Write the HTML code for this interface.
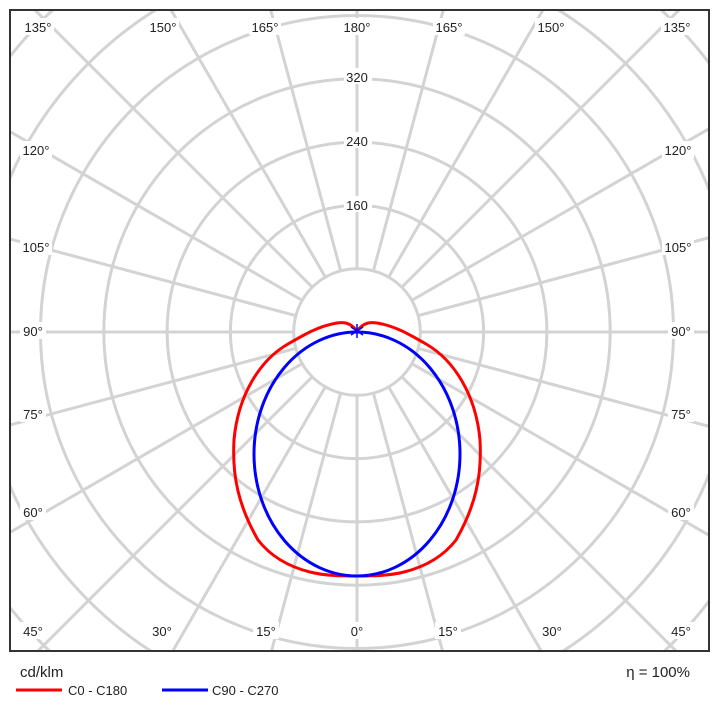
<!DOCTYPE html><html><head><style>body{margin:0;background:#fff;overflow:hidden}svg{display:block}text{font-family:"Liberation Sans",sans-serif;font-size:13px;fill:#222}</style></head><body>
<svg width="720" height="714" viewBox="0 0 720 714">
<defs><clipPath id="c"><rect x="10" y="10" width="699" height="641"/></clipPath></defs>
<g clip-path="url(#c)" stroke="#d3d3d3" stroke-width="3" fill="none">
<line x1="357" y1="-368" x2="357" y2="1032"/>
<line x1="538.2" y1="1008.1" x2="175.8" y2="-344.1"/>
<line x1="707" y1="938.2" x2="7" y2="-274.2"/>
<line x1="852" y1="827" x2="-138" y2="-163"/>
<line x1="963.2" y1="682" x2="-249.2" y2="-18"/>
<line x1="1033.1" y1="513.2" x2="-319.1" y2="150.8"/>
<line x1="1057" y1="332" x2="-343" y2="332"/>
<line x1="1033.1" y1="150.8" x2="-319.1" y2="513.2"/>
<line x1="963.2" y1="-18" x2="-249.2" y2="682"/>
<line x1="852" y1="-163" x2="-138" y2="827"/>
<line x1="707" y1="-274.2" x2="7" y2="938.2"/>
<line x1="538.2" y1="-344.1" x2="175.8" y2="1008.1"/>
<circle cx="357" cy="332" r="63.3" fill="#fff"/>
<circle cx="357" cy="332" r="126.6"/>
<circle cx="357" cy="332" r="189.9"/>
<circle cx="357" cy="332" r="253.2"/>
<circle cx="357" cy="332" r="316.5"/>
<circle cx="357" cy="332" r="379.8"/>
<circle cx="357" cy="332" r="443.1"/>
<circle cx="357" cy="332" r="506.4"/>
</g>
<g fill="#fff" stroke="none">
<rect x="344" y="68" width="28" height="16"/><rect x="344" y="132" width="28" height="16"/><rect x="344" y="196" width="28" height="16"/>
<rect x="22" y="18" width="32" height="17"/><rect x="147" y="18" width="32" height="17"/><rect x="249" y="18" width="32" height="17"/><rect x="341" y="18" width="32" height="17"/>
<rect x="433" y="18" width="32" height="17"/><rect x="535" y="18" width="32" height="17"/><rect x="661" y="18" width="32" height="17"/>
<rect x="20" y="141" width="32" height="17"/><rect x="20" y="238" width="32" height="17"/><rect x="20" y="322" width="26" height="17"/><rect x="20" y="405" width="26" height="17"/><rect x="20" y="503" width="26" height="17"/>
<rect x="662" y="141" width="32" height="17"/><rect x="662" y="238" width="32" height="17"/><rect x="668" y="322" width="26" height="17"/><rect x="668" y="405" width="26" height="17"/><rect x="668" y="503" width="26" height="17"/>
<rect x="20" y="622" width="26" height="17"/><rect x="149" y="622" width="26" height="17"/><rect x="253" y="622" width="26" height="17"/><rect x="348" y="622" width="18" height="17"/><rect x="435" y="622" width="26" height="17"/><rect x="539" y="622" width="26" height="17"/><rect x="668" y="622" width="26" height="17"/>
</g>
<rect x="10" y="10" width="699" height="641" fill="none" stroke="#333" stroke-width="2"/>
<g text-anchor="middle">
<text x="357" y="82">320</text><text x="357" y="146">240</text><text x="357" y="210">160</text>
<text x="38" y="32">135°</text><text x="163" y="32">150°</text><text x="265" y="32">165°</text><text x="357" y="32">180°</text>
<text x="449" y="32">165°</text><text x="551" y="32">150°</text><text x="677" y="32">135°</text>
<text x="36" y="155">120°</text><text x="36" y="252">105°</text><text x="33" y="336">90°</text><text x="33" y="419">75°</text><text x="33" y="517">60°</text>
<text x="678" y="155">120°</text><text x="678" y="252">105°</text><text x="681" y="336">90°</text><text x="681" y="419">75°</text><text x="681" y="517">60°</text>
<text x="33" y="636">45°</text><text x="162" y="636">30°</text><text x="266" y="636">15°</text><text x="357" y="636">0°</text><text x="448" y="636">15°</text><text x="552" y="636">30°</text><text x="681" y="636">45°</text>
</g>
<text x="20" y="677" style="font-size:15px">cd/klm</text>
<text x="690" y="677" text-anchor="end" style="font-size:15px">η = 100%</text>
<line x1="16" y1="690" x2="62" y2="690" stroke="#f00" stroke-width="3"/><text x="68" y="695">C0 - C180</text>
<line x1="162" y1="690" x2="208" y2="690" stroke="#00f" stroke-width="3"/><text x="212" y="695">C90 - C270</text>
<g fill="none" stroke-width="3">
<path stroke="#f00" d="M357,331 C350,322 343,322 337,323 C318,326 302,336 288,344 C260,360 238,395 234,440 C232,475 238,505 258,540 C272,558 290,567 310,572 C325,576 345,576 357,576 C369,576 389,576 404,572 C424,567 442,558 456,540 C476,505 482,475 480,440 C476,395 454,360 426,344 C412,336 396,326 377,323 C371,322 364,322 357,331 Z"/>
<ellipse stroke="#00f" cx="357" cy="454" rx="103" ry="122"/>
<path stroke="#00f" stroke-width="1.5" d="M357,324 V338 M351,327 L363,335 M363,327 L351,335"/>
</g>
</svg></body></html>
